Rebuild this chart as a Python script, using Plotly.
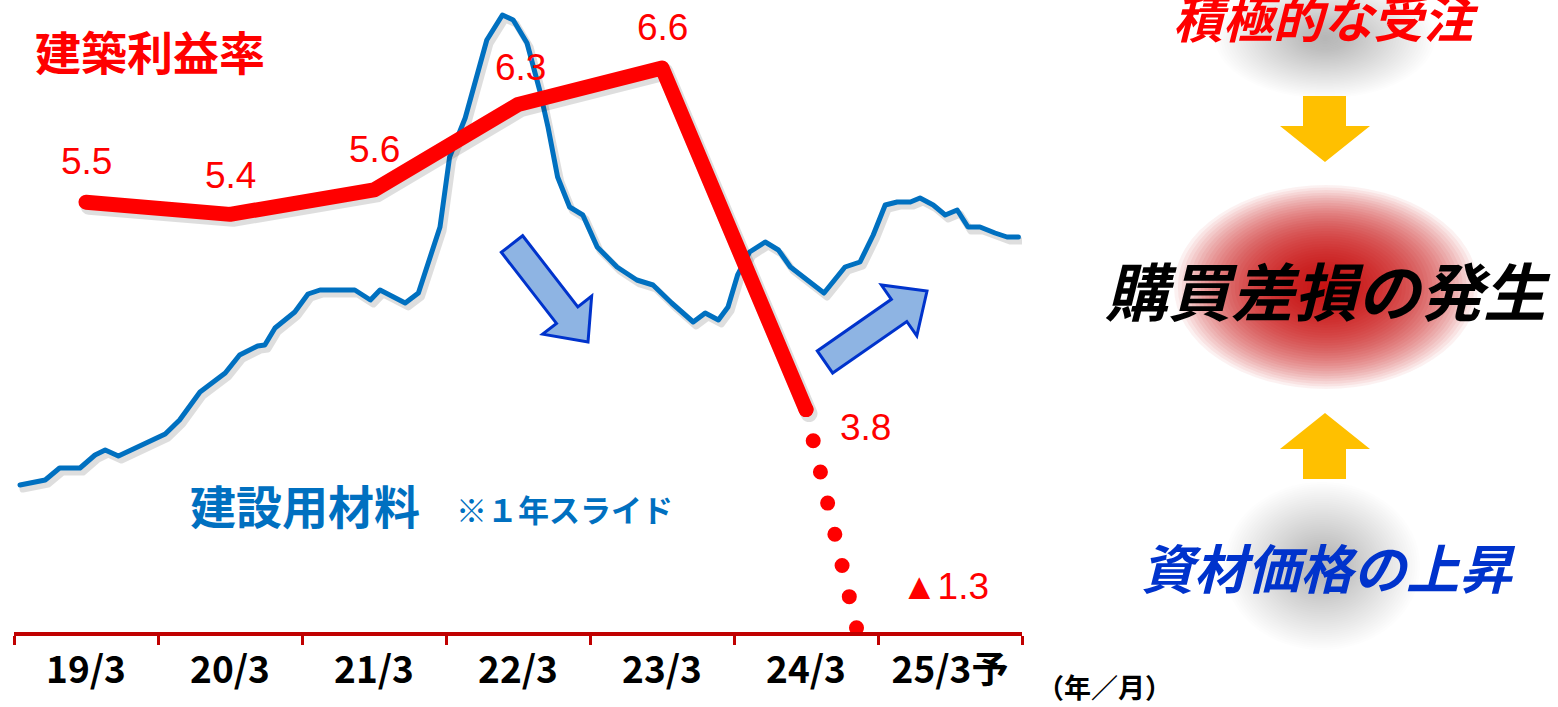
import plotly.graph_objects as go

W, H = 1558, 707

# ---------------- data ----------------
categories = ["19/3", "20/3", "21/3", "22/3", "23/3", "24/3", "25/3予"]
profit_cats = ["19/3", "20/3", "21/3", "22/3", "23/3", "24/3"]
profit_values = [5.5, 5.4, 5.6, 6.3, 6.6, 3.8]
forecast_cats = ["24/3", "25/3予"]
forecast_values = [3.8, -1.3]
profit_labels = ["5.5", "5.4", "5.6", "6.3", "6.6", "3.8"]
forecast_label = "▲1.3"

# construction materials index (1-year slide), month offset from start
material_month = [0.0, 2.1, 3.3, 5.0, 6.25, 7.1, 8.2, 9.6, 12.1, 13.3, 15.0, 17.1, 18.3,
                  19.8, 20.4, 21.25, 22.9, 24.0, 25.0, 27.9, 29.2, 30.0, 31.25, 32.1,
                  33.2, 35.0, 35.8, 37.1, 38.9, 40.2, 41.1, 42.25, 43.3, 44.0, 44.8,
                  45.8, 46.9, 48.1, 49.75, 51.4, 52.75, 54.3, 56.1, 57.1, 58.2, 59.0,
                  59.8, 60.8, 62.1, 63.2, 64.2, 67.0, 68.75, 70.0, 71.1, 72.1, 73.1,
                  74.2, 75.0, 76.1, 77.1, 78.1, 79.0, 80.0, 81.25, 82.25, 83.2]
material_index = [100.0, 100.5, 101.7, 101.7, 103.0, 103.5, 102.9, 103.7, 105.1, 106.5,
                  109.3, 111.2, 113.0, 113.9, 114.0, 115.7, 117.3, 119.1, 119.5, 119.5,
                  118.5, 119.5, 118.7, 118.2, 119.2, 125.8, 132.8, 136.7, 144.5, 147.0,
                  146.5, 144.2, 139.5, 135.8, 130.8, 127.8, 127.0, 123.8, 121.8, 120.5,
                  120.0, 118.2, 116.3, 117.2, 116.5, 117.8, 121.0, 123.3, 124.3, 123.5,
                  121.8, 119.2, 121.8, 122.3, 125.0, 128.0, 128.3, 128.3, 128.7, 128.0,
                  127.0, 127.5, 125.8, 125.8, 125.2, 124.8, 124.8]

# ---------------- geometry ----------------
PL, PR, PT, PB = 14, 1022, 0, 632
dom_x = [PL / W, PR / W]
dom_y = [1 - PB / H, 1 - PT / H]
cat_range = [-0.5, 6.5]
profit_range = [1.977, 7.157]
month_range = [-0.5, 83.5]
index_range = [85.3, 148.5]

px_per_cat = (PR - PL) / 7
px_per_month = (PR - PL) / 84
px_per_profit = (PB - PT) / (profit_range[1] - profit_range[0])
px_per_index = (PB - PT) / (index_range[1] - index_range[0])
SDX, SDY = 3, 4  # shadow offset in px

RED = "#FF0000"
BLUE = "#0070C0"
AXIS_RED = "#C00000"
SHADOW = "rgba(0,0,0,0.13)"

fig = go.Figure()

# blue shadow (x/y)
fig.add_trace(go.Scatter(x=material_month, y=material_index, mode="lines",
                         line=dict(color=SHADOW, width=7), xaxis="x", yaxis="y",
                         hoverinfo="skip", showlegend=False))
# blue line (x2/y2)
fig.add_trace(go.Scatter(x=material_month, y=material_index, mode="lines",
                         line=dict(color=BLUE, width=5), xaxis="x2", yaxis="y2",
                         showlegend=False, name="建設用材料"))
# red shadow (x3/y3)
fig.add_trace(go.Scatter(x=profit_cats, y=profit_values, mode="lines",
                         line=dict(color=SHADOW, width=17), xaxis="x3", yaxis="y3",
                         hoverinfo="skip", showlegend=False))
# red line (x4/y4)
fig.add_trace(go.Scatter(x=profit_cats, y=profit_values, mode="lines",
                         line=dict(color=RED, width=15), xaxis="x4", yaxis="y4",
                         showlegend=False, name="建築利益率"))
fig.add_trace(go.Scatter(x=forecast_cats, y=forecast_values, mode="lines",
                         line=dict(color=RED, width=15, dash="0px,32px"),
                         xaxis="x4", yaxis="y4", showlegend=False, name="予想"))

hidden = dict(visible=False, showgrid=False, zeroline=False, fixedrange=True)

fig.update_layout(
    width=W, height=H,
    margin=dict(l=0, r=0, t=0, b=0),
    paper_bgcolor="white", plot_bgcolor="rgba(0,0,0,0)",
    showlegend=False,
    xaxis=dict(domain=dom_x, anchor="y",
               range=[month_range[0] - SDX / px_per_month, month_range[1] - SDX / px_per_month],
               **hidden),
    yaxis=dict(domain=dom_y, anchor="x",
               range=[index_range[0] + SDY / px_per_index, index_range[1] + SDY / px_per_index],
               **hidden),
    xaxis2=dict(overlaying="x", anchor="y2", range=month_range, **hidden),
    yaxis2=dict(overlaying="y", anchor="x2", range=index_range, **hidden),
    xaxis3=dict(overlaying="x", anchor="y3", type="category", categoryorder="array",
                categoryarray=categories,
                range=[cat_range[0] - SDX / px_per_cat, cat_range[1] - SDX / px_per_cat],
                **hidden),
    yaxis3=dict(overlaying="y", anchor="x3",
                range=[profit_range[0] + SDY / px_per_profit, profit_range[1] + SDY / px_per_profit],
                **hidden),
    xaxis4=dict(overlaying="x", anchor="y4", type="category", categoryorder="array",
                categoryarray=categories, range=cat_range,
                tickmode="array", tickvals=categories, ticktext=categories,
                tickson="boundaries", ticks="outside", ticklen=9, tickwidth=3,
                tickcolor=AXIS_RED, showline=True, linecolor=AXIS_RED, linewidth=4,
                showgrid=False, zeroline=False, fixedrange=True,
                ticklabelstandoff=3,
                tickfont=dict(family="Noto Sans CJK JP", size=37, color="black", weight="bold")),
    yaxis4=dict(overlaying="y", anchor="x4", range=profit_range, **hidden),
)


def P(x, y):
    return x / W, 1 - y / H


annotations = []
# data labels on the profit line
label_offsets = [(0, 41), (0, 39), (0, 40), (2, 37), (0, 40), (59, -18)]
for c, v, t, (dx, dy) in zip(profit_cats, profit_values, profit_labels, label_offsets):
    annotations.append(dict(x=c, y=v, xref="x4", yref="y4", text=t, showarrow=False,
                            xshift=dx, yshift=dy,
                            font=dict(family="Liberation Sans", size=37, color=RED)))
annotations.append(dict(x=forecast_cats[1], y=2.35, xref="x4", yref="y4", text=forecast_label,
                        showarrow=False, xshift=-5,
                        font=dict(family="Liberation Sans", size=37, color=RED)))


def text_px(x, y, text, size, color, family="Noto Sans CJK JP", weight="bold", style="normal",
            xanchor="center"):
    xp, yp = P(x, y)
    annotations.append(dict(x=xp, y=yp, xref="paper", yref="paper", text=text, showarrow=False,
                            xanchor=xanchor, yanchor="middle",
                            font=dict(family=family, size=size, color=color, weight=weight,
                                      style=style)))


text_px(33, 50, "建築利益率", 46, RED, xanchor="left")
text_px(188, 504, "建設用材料", 46, BLUE, xanchor="left")
text_px(454, 508, "※１年スライド", 31, BLUE, xanchor="left")
text_px(1104, 686, "（年／月）", 27, "black")

text_px(1326, 16, "積極的な受注", 50, RED, style="italic")
text_px(1328, 288, "購買差損の発生", 63, "black", style="italic")
text_px(1328, 566, "資材価格の上昇", 53, "#0033CC", style="italic")

fig.update_layout(annotations=annotations)

shapes = []


def glow(cx, cy, rx, ry, color, alpha, n=40):
    for i in range(n):
        f = 1 - i / n
        x0, y0 = P(cx - rx * f, cy - ry * f)
        x1, y1 = P(cx + rx * f, cy + ry * f)
        shapes.append(dict(type="circle", xref="paper", yref="paper",
                           x0=x0, x1=x1, y0=y1, y1=y0, fillcolor=color, opacity=alpha,
                           line=dict(width=0), layer="below"))


glow(1325, 38, 110, 60, "#808080", 0.016)
glow(1326, 287, 152, 102, "#C00000", 0.055)
glow(1322, 566, 98, 84, "#808080", 0.016)


def poly_path(pts):
    s = ""
    for i, (x, y) in enumerate(pts):
        xp, yp = P(x, y)
        s += ("M" if i == 0 else "L") + f"{xp:.5f},{yp:.5f} "
    return s + "Z"


# yellow arrows
shapes.append(dict(type="path", xref="paper", yref="paper",
                   path=poly_path([(1303, 96), (1346, 96), (1346, 126), (1370, 126), (1325, 162),
                                   (1280, 126), (1303, 126)]),
                   fillcolor="#FFC000", line=dict(width=0)))
shapes.append(dict(type="path", xref="paper", yref="paper",
                   path=poly_path([(1325, 413), (1370, 449), (1346, 449), (1346, 479), (1303, 479),
                                   (1303, 449), (1280, 449)]),
                   fillcolor="#FFC000", line=dict(width=0)))


def arrow_pts(tail, tip, sw, hw, hl):
    import math
    tx, ty = tail
    ux, uy = tip[0] - tx, tip[1] - ty
    L = math.hypot(ux, uy)
    ux, uy = ux / L, uy / L
    nx, ny = -uy, ux
    bx, by = tip[0] - ux * hl, tip[1] - uy * hl
    return [(tx + nx * sw / 2, ty + ny * sw / 2), (bx + nx * sw / 2, by + ny * sw / 2),
            (bx + nx * hw / 2, by + ny * hw / 2), tip,
            (bx - nx * hw / 2, by - ny * hw / 2), (bx - nx * sw / 2, by - ny * sw / 2),
            (tx - nx * sw / 2, ty - ny * sw / 2)]


for tail, tip in [((512, 244), (588, 342)), ((825, 362), (927, 291))]:
    shapes.append(dict(type="path", xref="paper", yref="paper",
                       path=poly_path(arrow_pts(tail, tip, 27, 62, 34)),
                       fillcolor="#8EB4E3", line=dict(color="#0033CC", width=3)))

fig.update_layout(shapes=shapes)

post = ("var s=document.createElement('style');"
        "s.textContent='html,body{margin:0 !important;padding:0 !important;overflow:hidden;}"
        "path.js-line{stroke-linecap:round !important;stroke-linejoin:round !important;}';"
        "document.head.appendChild(s);")
fig.write_html("out.html", post_script=post, config={"displayModeBar": False})
